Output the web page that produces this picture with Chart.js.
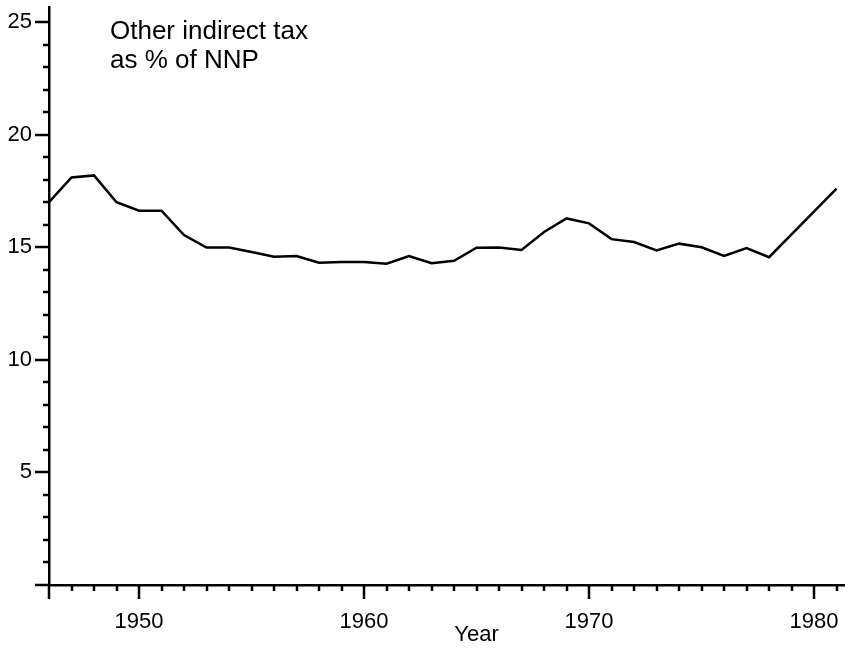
<!DOCTYPE html>
<html>
<head>
<meta charset="utf-8">
<script src="https://cdn.jsdelivr.net/npm/chart.js@4.4.0/dist/chart.umd.min.js"></script>
<style>
  html, body { margin: 0; padding: 0; background: #fff; }
  #wrap { width: 849px; height: 650px; }
</style>
</head>
<body>
<div id="wrap"><canvas id="taxChart" width="849" height="650"></canvas></div>
<script>
// Data
const years = [1946, 1947, 1948, 1949, 1950, 1951, 1952, 1953, 1954, 1955,
               1956, 1957, 1958, 1959, 1960, 1961, 1962, 1963, 1964, 1965,
               1966, 1967, 1968, 1969, 1970, 1971, 1972, 1973, 1974, 1975,
               1976, 1977, 1978, 1981];
const taxShare = [17.0, 18.1, 18.19, 17.0, 16.62, 16.62, 15.54, 14.99, 14.99, 14.79,
                  14.58, 14.61, 14.31, 14.34, 14.34, 14.27, 14.61, 14.29, 14.4, 14.98,
                  14.99, 14.88, 15.68, 16.28, 16.06, 15.36, 15.23, 14.86, 15.16, 15.0,
                  14.61, 14.96, 14.56, 17.6];
const xTickLabels = [1950, 1960, 1970, 1980];
const yTickLabels = [5, 10, 15, 20, 25];
const noteLines = ['Other indirect tax', 'as % of NNP'];
const xTitle = 'Year';

const FONT = "'Liberation Sans', Arial, sans-serif";

// axis tick marks (major + minor) and free text
const axisExtras = {
    id: 'axisExtras',
    afterDraw(chart) {
        const { ctx, chartArea, scales: { x, y } } = chart;
        ctx.save();
        ctx.strokeStyle = '#000';
        ctx.lineWidth = 2.5;
        ctx.beginPath();
        // x ticks, one per year
        for (let yr = Math.ceil(x.min); yr <= x.max; yr++) {
            const px = Math.round(x.getPixelForValue(yr));
            const len = (yr % 10 === 0 || yr === x.min) ? 14 : 6;
            ctx.moveTo(px, chartArea.bottom);
            ctx.lineTo(px, chartArea.bottom + len);
        }
        // y ticks, one per unit
        for (let v = 0; v <= Math.floor(y.max); v++) {
            const py = Math.round(y.getPixelForValue(v));
            const len = (v % 5 === 0) ? 14 : 6;
            ctx.moveTo(chartArea.left, py);
            ctx.lineTo(chartArea.left - len, py);
        }
        ctx.stroke();

        ctx.fillStyle = '#000';
        ctx.textBaseline = 'alphabetic';
        ctx.textAlign = 'left';
        ctx.font = '26px ' + FONT;
        ctx.fillText(noteLines[0], 110, 39);
        ctx.fillText(noteLines[1], 110, 68);

        ctx.textAlign = 'center';
        ctx.font = '22px ' + FONT;
        ctx.fillText(xTitle, x.getPixelForValue(1965), 641);
        ctx.restore();
    }
};

new Chart(document.getElementById('taxChart').getContext('2d'), {
    type: 'line',
    data: {
        datasets: [{
            data: years.map((yr, i) => ({ x: yr, y: taxShare[i] })),
            borderColor: '#000',
            borderWidth: 2.5,
            pointRadius: 0,
            tension: 0,
            fill: false
        }]
    },
    options: {
        responsive: false,
        animation: false,
        layout: { padding: { top: 7, right: 5, left: 0, bottom: 0 } },
        plugins: {
            legend: { display: false },
            tooltip: { enabled: false }
        },
        scales: {
            x: {
                type: 'linear',
                min: 1946,
                max: 1981.33,
                afterFit: s => {
                    s.height = 65;
                    s.paddingLeft = 0;
                    s.paddingRight = 0;
                },
                afterBuildTicks: s => { s.ticks = xTickLabels.map(v => ({ value: v })); },
                grid: { display: false, drawTicks: false },
                border: { display: true, color: '#000', width: 2.5 },
                ticks: {
                    color: '#000',
                    font: { family: FONT, size: 22 },
                    padding: 24,
                    maxRotation: 0,
                    autoSkip: false,
                    callback: v => String(v)
                }
            },
            y: {
                min: 0,
                max: 25.67,
                afterFit: s => {
                    s.width = 49;
                    s.paddingTop = 0;
                    s.paddingBottom = 0;
                },
                afterBuildTicks: s => { s.ticks = yTickLabels.map(v => ({ value: v })); },
                grid: { display: false, drawTicks: false },
                border: { display: true, color: '#000', width: 2.5 },
                ticks: {
                    color: '#000',
                    font: { family: FONT, size: 22 },
                    padding: 17,
                    callback: v => String(v)
                }
            }
        }
    },
    plugins: [axisExtras]
});
</script>
</body>
</html>
